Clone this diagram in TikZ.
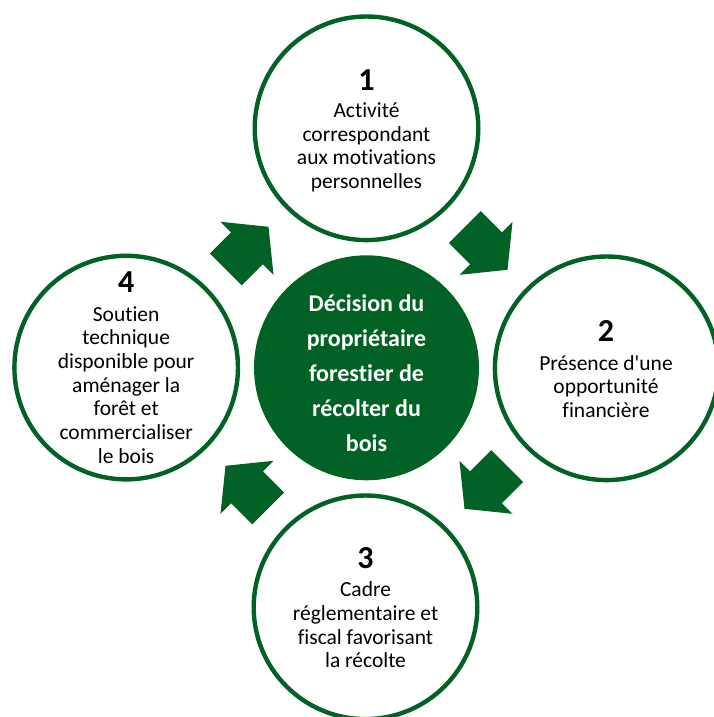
\documentclass[tikz,border=0pt]{standalone}
\usepackage{fontspec}
\setmainfont{Carlito}
\newfontfamily\calib{Carlito}[Ligatures={NoCommon}]
\definecolor{fgreen}{RGB}{2,98,38}
\begin{document}
\begin{tikzpicture}[x=1pt,y=-1pt,
  ring/.style={circle,draw=fgreen,line width=4.4pt,fill=white,minimum size=223.6pt,inner sep=0pt},
  hub/.style={circle,fill=fgreen,minimum size=225pt,inner sep=0pt},
  num/.style={anchor=base,font=\calib\fontsize{32}{32}\selectfont\bfseries,inner sep=0pt},
  body/.style={anchor=base,font=\calib\fontsize{21.5}{23.7}\selectfont,inner sep=0pt},
  hubtext/.style={anchor=base,font=\calib\fontsize{24}{35}\selectfont\bfseries,text=white,inner sep=0pt},
  blockarrow/.style={fill=fgreen}]
\useasboundingbox (0,0) rectangle (714,717);
\begin{scope}
\clip (0,0) rectangle (714,717);
% circles
\node[hub]  (hubc)   at (366.5,367.8) {};
\node[ring] (top)    at (366.5,128.3) {};
\node[ring] (right)  at (606.7,368.3) {};
\node[ring] (bottom) at (365.5,607.3) {};
\node[ring] (left)   at (126.2,367.6) {};
% arrows
\foreach \ang/\px/\py in {-45/486/248.3, -135/486/487.3, 135/247/487.3, 45/247/248.3}
  \fill[blockarrow,shift={(\px,\py)},rotate=\ang]
    (-30,22.5) -- (0,22.5) -- (0,37.5) -- (30.4,0) -- (0,-37.5) -- (0,-22.5) -- (-30,-22.5) -- cycle;
% texts
\node[hubtext] (hubt) at (366.5,311.7) {\begin{tabular}[t]{@{}c@{}}Décision du\\propriétaire\\forestier de\\récolter du\\bois\end{tabular}};
\node[num]  (n1) at (366.5,90) {1};
\node[body] (t1) at (366.5,117.3) {\begin{tabular}[t]{@{}c@{}}Activité\\correspondant\\aux motivations\\personnelles\end{tabular}};
\node[num]  (n2) at (606,341.7) {2};
\node[body] (t2) at (606,370) {\begin{tabular}[t]{@{}c@{}}Présence d'une\\opportunité\\financière\end{tabular}};
\node[num]  (n3) at (365.5,568.3) {3};
\node[body] (t3) at (365.5,596.7) {\begin{tabular}[t]{@{}c@{}}Cadre\\réglementaire et\\fiscal favorisant\\la récolte\end{tabular}};
\node[num]  (n4) at (126.2,292.7) {4};
\node[body] (t4) at (126.2,321) {\begin{tabular}[t]{@{}c@{}}Soutien\\technique\\disponible pour\\aménager la\\forêt et\\commercialiser\\le bois\end{tabular}};
\end{scope}
\end{tikzpicture}
\end{document}
